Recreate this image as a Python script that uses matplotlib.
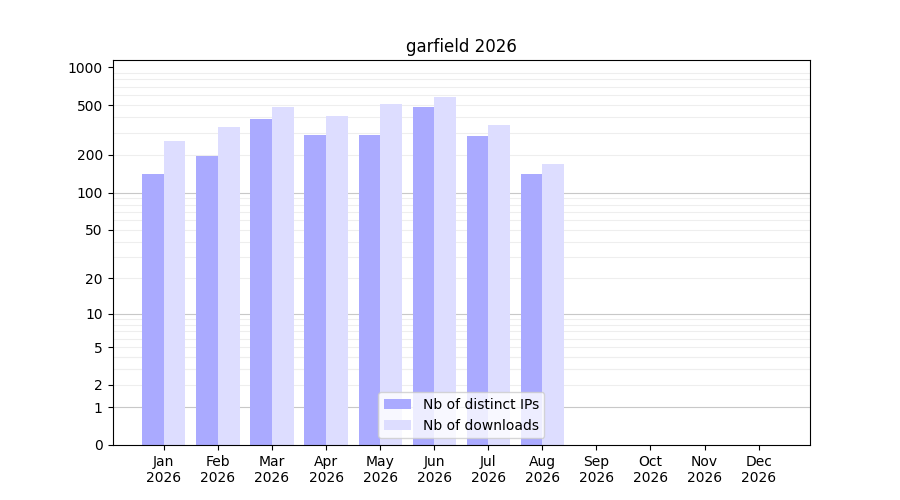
import numpy as np
import matplotlib
matplotlib.use("Agg")
import matplotlib.pyplot as plt

months = ["Jan\n2026", "Feb\n2026", "Mar\n2026", "Apr\n2026", "May\n2026", "Jun\n2026",
          "Jul\n2026", "Aug\n2026", "Sep\n2026", "Oct\n2026", "Nov\n2026", "Dec\n2026"]
distinct_ips = [140, 195, 390, 290, 290, 480, 285, 140, 0, 0, 0, 0]
downloads = [260, 335, 480, 410, 510, 580, 345, 170, 0, 0, 0, 0]
yticks = [0, 1, 2, 5, 10, 20, 50, 100, 200, 500, 1000]

fig, ax = plt.subplots(figsize=(9, 5), dpi=100)
fig.subplots_adjust(left=0.125, right=0.9, top=0.88, bottom=0.11)

ax.set_yscale("function", functions=(lambda v: np.log10(np.maximum(v, 0) + 1),
                                     lambda v: 10 ** v - 1))

x = np.arange(len(months))
w = 0.4
ax.bar(x - w / 2, distinct_ips, w, color="#aaaaff", label="Nb of distinct IPs", zorder=2)
ax.bar(x + w / 2, downloads, w, color="#ddddff", label="Nb of downloads", zorder=2)

minor = [m * 10 ** e for e in range(0, 3) for m in range(2, 10)] + [3, 4]
for v in minor:
    ax.axhline(v, color="#eeeeee", lw=0.8, zorder=0)
for v in [1, 10, 100]:
    ax.axhline(v, color="#c8c8c8", lw=0.8, zorder=1)

ax.set_yticks(yticks)
ax.set_yticklabels([str(t) for t in yticks])
ax.minorticks_off()
ax.set_ylim(0, 1140)
ax.set_xticks(x)
ax.set_xticklabels(months)
ax.set_xlim(-0.95, 11.95)
ax.set_title("garfield 2026")
ax.legend(loc="lower center")

fig.savefig("out.png")
